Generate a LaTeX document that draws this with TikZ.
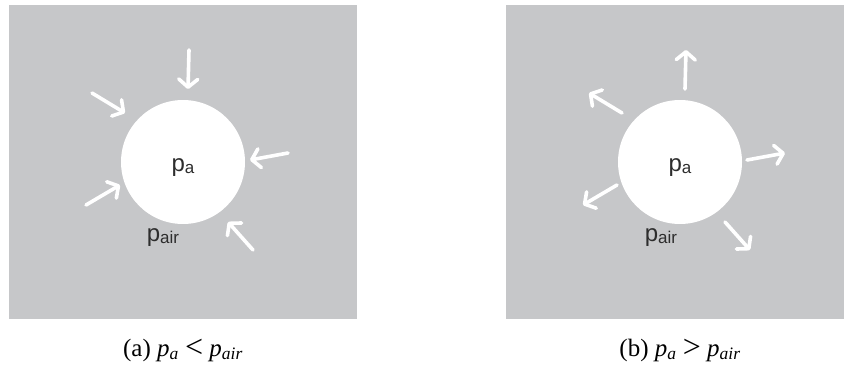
\documentclass[tikz,border=0pt]{standalone}
\usepackage{fontspec}
\setmainfont{Liberation Serif}
\newfontfamily\labelfont{Liberation Sans}
\usepackage{xcolor}
\usepackage{tikz}
\usetikzlibrary{arrows.meta, calc}
\definecolor{PanelGray}{RGB}{198, 199, 201}
\definecolor{InkGray}{RGB}{45, 45, 45}
\newcommand{\relsym}[1]{\hspace{0.25em}\raisebox{-1.5pt}{\fontsize{32}{32}\selectfont #1}\hspace{0.25em}}

\begin{document}
\begin{tikzpicture}[
    x=1pt, y=-1pt,
    panel/.style={fill=PanelGray, draw=none},
    bubble/.style={circle, fill=white, draw=none, minimum size=124pt, inner sep=0pt},
    plabel/.style={text=InkGray, inner sep=0pt, font=\labelfont\fontsize{24}{26}\selectfont},
    flow/.style={draw=white, line width=3.6pt, line cap=round, -{Straight Barb[length=8pt, width=19pt, line cap=round, line join=round]}},
    caption/.style={inner sep=0pt, font=\fontsize{25}{28}\selectfont}
]
    \useasboundingbox (0, 0) rectangle (844, 369);

    % Panels
    \fill[panel] (9, 5) rectangle (357, 319);
    \fill[panel] (506, 5) rectangle (844, 319);

    % Bubbles
    \node[bubble] (bubbleA) at (183, 162) {};
    \node[bubble] (bubbleB) at (680, 162) {};

    % Pressure labels
    \node[plabel] (insideA) at (183, 168) {p\raisebox{-2pt}{\fontsize{17}{18}\selectfont a}};
    \node[plabel] (outsideA) at (163, 238) {p\raisebox{-2pt}{\fontsize{17}{18}\selectfont air}};
    \node[plabel] (insideB) at (680, 168) {p\raisebox{-2pt}{\fontsize{17}{18}\selectfont a}};
    \node[plabel] (outsideB) at (661, 238) {p\raisebox{-2pt}{\fontsize{17}{18}\selectfont air}};

    % Arrows: inward for (a), outward for (b)
    \foreach \ix/\iy/\ox/\oy in {5/-73/6/-112, -58/-49/-91/-69, 67/-2/105/-9, -63/23/-97/43, 45/60/70/88} {
        \draw[flow] ($(bubbleA.center)+(\ox,\oy)$) -- ($(bubbleA.center)+(\ix,\iy)$);
        \draw[flow] ($(bubbleB.center)+(\ix,\iy)$) -- ($(bubbleB.center)+(\ox,\oy)$);
    }

    % Captions
    \node[caption] (capA) at (183, 350) {(a) \textit{p\textsubscript{a}}\relsym{<}\textit{p\textsubscript{air}}};
    \node[caption] (capB) at (680, 350) {(b) \textit{p\textsubscript{a}}\relsym{>}\textit{p\textsubscript{air}}};
\end{tikzpicture}
\end{document}
